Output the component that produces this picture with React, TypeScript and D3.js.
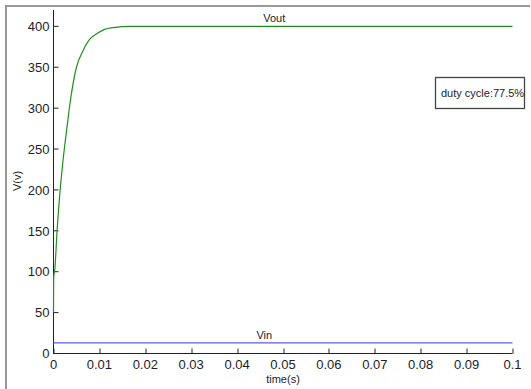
import * as d3 from 'd3';
import { type FC, useEffect, useRef } from 'react';

// Vout transient: [time (s), volts]
const voutPoints: [number, number][] = [
  [0, 50],
  [0.00003, 92],
  [0.0003, 104],
  [0.0008, 152],
  [0.0013, 190],
  [0.002, 232],
  [0.0029, 275],
  [0.0037, 310],
  [0.005, 350],
  [0.0064, 370],
  [0.008, 385],
  [0.0094, 391],
  [0.011, 396],
  [0.013, 398.5],
  [0.0167, 400],
  [0.1, 400],
];

const vinPoints: [number, number][] = [
  [0, 13],
  [0.1, 13],
];

const xTicks = [0, 0.01, 0.02, 0.03, 0.04, 0.05, 0.06, 0.07, 0.08, 0.09, 0.1];
const yTicks = [0, 50, 100, 150, 200, 250, 300, 350, 400];

const W = 531;
const H = 389;

const App: FC = () => {
  const svgRef = useRef<SVGSVGElement>(null);

  useEffect(() => {
    if (!svgRef.current) {
      return;
    }
    const svg = d3.select(svgRef.current);
    svg.selectAll('*').remove();

    const margin = { top: 10, left: 53.5, right: 18.5, bottom: 35.5 };
    const width = W - margin.left - margin.right;
    const height = H - margin.top - margin.bottom;
    const font = 'Arial, "Liberation Sans", sans-serif';
    const textColor = '#1c1c2c';

    svg.append('rect').attr('width', W).attr('height', H).attr('fill', '#fff');

    // figure frame (top and left edges only are visible)
    svg
      .append('path')
      .attr('d', `M6,${H} L6,6 L530,6`)
      .attr('fill', 'none')
      .attr('stroke', '#999')
      .attr('stroke-width', 2);

    const g = svg
      .append('g')
      .attr('transform', `translate(${margin.left},${margin.top})`);

    const x = d3.scaleLinear().domain([0, 0.1]).range([0, width]);
    const y = d3.scaleLinear().domain([0, 420]).range([height, 0]);

    // axes lines
    g.append('line')
      .attr('x1', 0)
      .attr('x2', 0)
      .attr('y1', 0)
      .attr('y2', height)
      .attr('stroke', '#222');
    g.append('line')
      .attr('x1', 0)
      .attr('x2', width)
      .attr('y1', height)
      .attr('y2', height)
      .attr('stroke', '#222');

    // ticks (inward)
    g.selectAll('.xt')
      .data(xTicks)
      .join('line')
      .attr('class', 'xt')
      .attr('x1', (d) => Math.round(x(d)) + 0.5)
      .attr('x2', (d) => Math.round(x(d)) + 0.5)
      .attr('y1', height)
      .attr('y2', height - 5)
      .attr('stroke', '#222');
    g.selectAll('.yt')
      .data(yTicks)
      .join('line')
      .attr('class', 'yt')
      .attr('x1', 0)
      .attr('x2', 5)
      .attr('y1', (d) => y(d))
      .attr('y2', (d) => y(d))
      .attr('stroke', '#222');

    // tick labels
    g.selectAll('.xl')
      .data(xTicks)
      .join('text')
      .attr('class', 'xl')
      .attr('x', (d) => x(d))
      .attr('y', height + 15)
      .attr('text-anchor', 'middle')
      .attr('font-family', font)
      .attr('font-size', 13)
      .attr('fill', textColor)
      .text((d) => String(d));
    g.selectAll('.yl')
      .data(yTicks)
      .join('text')
      .attr('class', 'yl')
      .attr('x', -4)
      .attr('y', (d) => y(d))
      .attr('dy', '0.36em')
      .attr('text-anchor', 'end')
      .attr('font-family', font)
      .attr('font-size', 13)
      .attr('fill', textColor)
      .text((d) => String(d));

    // axis titles
    g.append('text')
      .attr('x', width / 2)
      .attr('y', height + 29)
      .attr('text-anchor', 'middle')
      .attr('font-family', font)
      .attr('font-size', 11)
      .attr('fill', textColor)
      .text('time(s)');
    svg
      .append('text')
      .attr('transform', `translate(21,181) rotate(-90)`)
      .attr('text-anchor', 'middle')
      .attr('font-family', font)
      .attr('font-size', 11)
      .attr('fill', textColor)
      .text('V(v)');

    const line = d3
      .line<[number, number]>()
      .x((d) => x(d[0]))
      .y((d) => y(d[1]))
      .curve(d3.curveMonotoneX);

    g.append('path')
      .datum(vinPoints)
      .attr('d', line)
      .attr('fill', 'none')
      .attr('stroke', '#5a5af0')
      .attr('stroke-width', 1.2);

    g.append('path')
      .datum(voutPoints)
      .attr('d', line)
      .attr('fill', 'none')
      .attr('stroke', '#1f8f1f')
      .attr('stroke-width', 1.2);

    // curve labels
    g.append('text')
      .attr('x', x(0.0457))
      .attr('y', y(405))
      .attr('font-family', font)
      .attr('font-size', 11)
      .attr('fill', textColor)
      .text('Vout');
    g.append('text')
      .attr('x', x(0.0442))
      .attr('y', y(18))
      .attr('font-family', font)
      .attr('font-size', 11)
      .attr('fill', textColor)
      .text('Vin');

    // annotation box
    svg
      .append('rect')
      .attr('x', 435.5)
      .attr('y', 77.5)
      .attr('width', 89)
      .attr('height', 31)
      .attr('fill', '#fff')
      .attr('stroke', '#444')
      .attr('stroke-width', 1.3);
    svg
      .append('text')
      .attr('x', 441)
      .attr('y', 97)
      .attr('font-family', font)
      .attr('font-size', 11)
      .attr('fill', textColor)
      .text('duty cycle:77.5%');
  }, []);

  return (
    <svg
      ref={svgRef}
      width={W}
      height={H}
      style={{ position: 'absolute', left: 0, top: 0 }}
    />
  );
};

export default App;
